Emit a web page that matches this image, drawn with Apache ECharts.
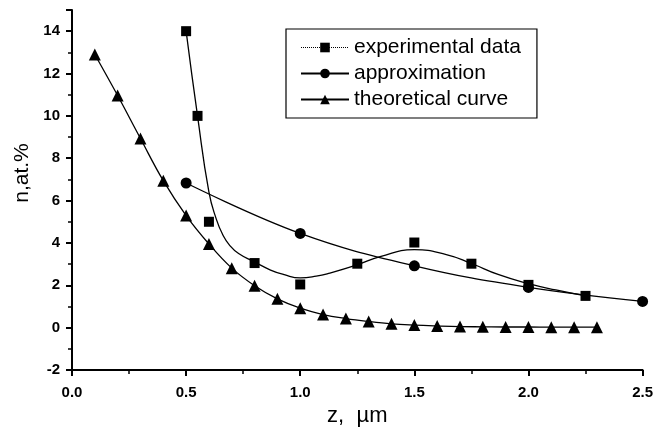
<!DOCTYPE html>
<html>
<head>
<meta charset="utf-8">
<script src="https://cdn.jsdelivr.net/npm/echarts@6/dist/echarts.min.js"></script>
<style>html,body{margin:0;padding:0;background:#fff}#c{width:656px;height:432px}</style>
</head>
<body>
<div id="c"></div>
<script>
// Experimental data (squares)
var expX = [0.5, 0.55, 0.6, 0.8, 1.0, 1.25, 1.5, 1.75, 2.0, 2.25];
var expY = [14.0, 10.0, 5.0, 3.05, 2.04, 3.02, 4.02, 3.02, 2.02, 1.5];
var fitX = [0.5, 0.55, 0.6, 0.633, 0.66, 0.69, 0.73, 0.8, 0.87, 0.93, 1.0, 1.07, 1.13, 1.25, 1.35, 1.5, 1.64, 1.75, 1.87, 2.0, 2.12, 2.25];
var fitY = [14.0, 10.0, 6.4, 5.1, 4.4, 3.9, 3.5, 3.1, 2.72, 2.5, 2.35, 2.43, 2.58, 2.97, 3.35, 3.68, 3.45, 3.03, 2.5, 2.08, 1.78, 1.5];
// Approximation (circles)
var apxX = [0.5, 1.0, 1.5, 2.0, 2.5];
var apxY = [6.83, 4.45, 2.92, 1.9, 1.24];
// Theoretical curve (triangles)
var thX = [0.1, 0.2, 0.3, 0.4, 0.5, 0.6, 0.7, 0.8, 0.9, 1.0, 1.1, 1.2, 1.3, 1.4, 1.5, 1.6, 1.7, 1.8, 1.9, 2.0, 2.1, 2.2, 2.3];
var thY = [12.9, 10.96, 8.93, 6.94, 5.29, 3.95, 2.81, 1.98, 1.36, 0.92, 0.62, 0.43, 0.29, 0.18, 0.12, 0.08, 0.05, 0.04, 0.03, 0.03, 0.02, 0.02, 0.02];
// Axis ticks
var xTicks = {min: 0, max: 2.5, interval: 0.5};
var yTicks = {min: -2, max: 15, interval: 2};

function pairs(xs, ys) { return xs.map(function (x, i) { return [x, ys[i]]; }); }

var FONT = '"Liberation Sans", Arial, sans-serif';
var chart = echarts.init(document.getElementById('c'), null, {renderer: 'canvas'});
chart.setOption({
  animation: false,
  backgroundColor: '#fff',
  grid: {left: 72, right: 13, top: 10, bottom: 62, containLabel: false},
  legend: {
    orient: 'vertical',
    left: 286, top: 29,
    padding: [8, 16, 8, 14],
    itemGap: 5,
    itemWidth: 48, itemHeight: 12,
    borderColor: '#000', borderWidth: 1.2,
    textStyle: {fontFamily: FONT, fontSize: 21, color: '#000', lineHeight: 21},
    data: [
      {name: 'experimental data', lineStyle: {width: 1, type: 'dotted', opacity: 1, color: '#000'}},
      {name: 'approximation'},
      {name: 'theoretical curve'}
    ]
  },
  xAxis: {
    type: 'value', min: xTicks.min, max: xTicks.max, interval: xTicks.interval,
    name: 'z,  \u00b5m', nameLocation: 'middle', nameGap: 33,
    nameTextStyle: {fontFamily: FONT, fontSize: 22, color: '#000'},
    axisLine: {onZero: false, lineStyle: {color: '#000', width: 2}},
    axisTick: {length: 6, lineStyle: {color: '#000', width: 2}},
    minorTick: {show: true, splitNumber: 2, length: 4, lineStyle: {color: '#000', width: 1.5}},
    splitLine: {show: false},
    axisLabel: {fontFamily: FONT, fontSize: 15, fontWeight: 'bold', color: '#000', margin: 15,
      formatter: function (v) { return v.toFixed(1); }}
  },
  yAxis: {
    type: 'value', min: yTicks.min, max: yTicks.max, interval: yTicks.interval,
    name: 'n,at.%', nameLocation: 'middle', nameGap: 38,
    nameTextStyle: {fontFamily: FONT, fontSize: 21, color: '#000', padding: [0, 0, 0, 34]},
    axisLine: {onZero: false, lineStyle: {color: '#000', width: 2}},
    axisTick: {length: 6, lineStyle: {color: '#000', width: 2}},
    minorTick: {show: true, splitNumber: 2, length: 4, lineStyle: {color: '#000', width: 1.5}},
    splitLine: {show: false},
    axisLabel: {fontFamily: FONT, fontSize: 15, fontWeight: 'bold', color: '#000', margin: 12,
      showMaxLabel: false}
  },
  series: [
    {
      name: 'experimental data', type: 'line', data: pairs(expX, expY),
      symbol: 'rect', symbolSize: 10, itemStyle: {color: '#000'},
      lineStyle: {width: 0, opacity: 0, color: '#000'}, z: 5
    },
    {
      name: 'approximation', type: 'line', data: pairs(apxX, apxY), smooth: 0.4,
      symbol: 'circle', symbolSize: 11, itemStyle: {color: '#000'},
      lineStyle: {width: 1.3, color: '#000'}
    },
    {
      name: 'theoretical curve', type: 'line', data: pairs(thX, thY), smooth: 0.4,
      symbol: 'triangle', symbolSize: 12, itemStyle: {color: '#000'},
      lineStyle: {width: 1.3, color: '#000'}
    },
    {
      name: 'fit', type: 'line', data: pairs(fitX, fitY), smooth: 0.5,
      symbol: 'none', lineStyle: {width: 1.3, color: '#000'}
    }
  ]
});
</script>
</body>
</html>
